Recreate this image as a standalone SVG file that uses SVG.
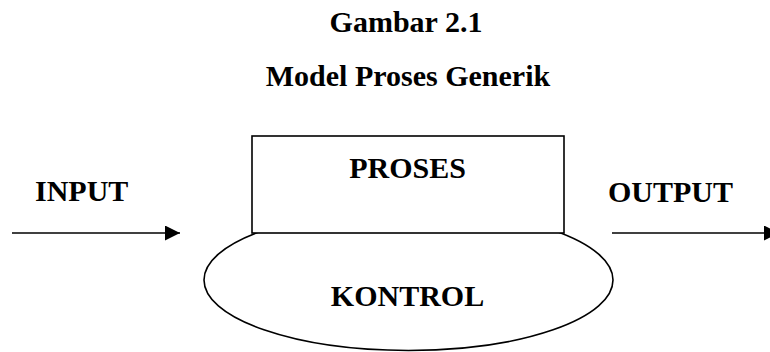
<svg xmlns="http://www.w3.org/2000/svg" width="770" height="352" viewBox="0 0 770 352">
<style>
text{font-family:"Liberation Serif","Times New Roman",serif;font-weight:bold;font-size:30px;fill:#000}
.s{fill:#fff;stroke:#000;stroke-width:1.6}
.c{stroke:#000;stroke-width:1.6;fill:none}
</style>
<defs>
<marker id="ah" markerWidth="16" markerHeight="15" refX="15" refY="7.5" orient="auto" markerUnits="userSpaceOnUse">
<path d="M0,0 L15,7.5 L0,15 Z" fill="#000"/>
</marker>
</defs>
<rect width="770" height="352" fill="#fff"/>
<g id="title">
<text x="406" y="32" text-anchor="middle">Gambar 2.1</text>
<text x="408" y="86" text-anchor="middle">Model Proses Generik</text>
</g>
<g id="kontrol">
<ellipse class="s" cx="408.5" cy="280" rx="204.5" ry="70.5"/>
<text x="407.5" y="306" text-anchor="middle">KONTROL</text>
</g>
<g id="proses">
<rect class="s" x="252" y="136" width="312" height="97"/>
<text x="407.5" y="178" text-anchor="middle">PROSES</text>
</g>
<g id="input">
<text x="35" y="201">INPUT</text>
</g>
<g id="output">
<text x="608" y="202">OUTPUT</text>
</g>
<g id="connectors">
<line class="c" x1="12" y1="233" x2="180" y2="233" marker-end="url(#ah)"/>
<line class="c" x1="612" y1="233" x2="779" y2="233" marker-end="url(#ah)"/>
</g>
</svg>
